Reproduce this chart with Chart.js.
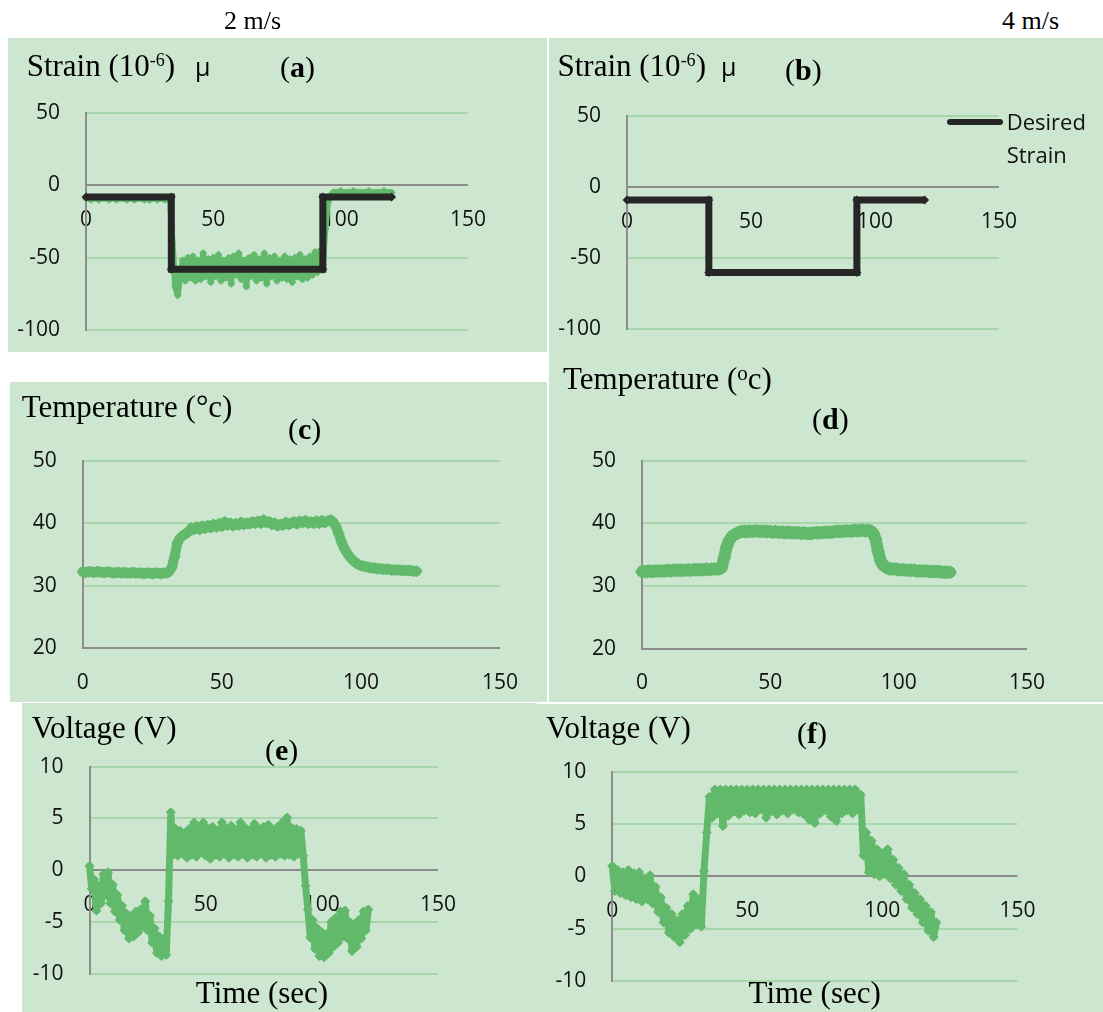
<!DOCTYPE html>
<html><head><meta charset="utf-8">
<script src="https://cdn.jsdelivr.net/npm/chart.js@4.4.0/dist/chart.umd.min.js"></script>
<style>
html,body{margin:0;padding:0;}
body{width:1103px;height:1012px;background:#fff;position:relative;overflow:hidden;}
.panel{position:absolute;background:#cde6d0;}
canvas.chart{position:absolute;z-index:3;pointer-events:none;}
.t{position:absolute;white-space:nowrap;color:#000;line-height:1;z-index:5;}
.t sup{font-size:18px;vertical-align:10px;line-height:1;}
.t .o{font-size:21px;vertical-align:9px;line-height:1;}
.t .mu{font-family:'Open Sans',sans-serif;font-size:25px;}
.swatch{position:absolute;background:#262626;border-radius:3px;z-index:5;}
</style>
</head><body>
<script>
// ---------- data ----------
const TIME = Array.from({length: 121}, (_, i) => i);   // sampling instants, seconds

const X_TICKS = [0, 50, 100, 150];

// (a) strain at 2 m/s, measured
const STRAIN_A = [
 -9,-9,-10,-9,-9,-10,-9,-9,-9,-10, -9,-9,-10,-9,-9,-9,-10,-9,-9,-10,
 -9,-9,-9,-10,-9,-10,-9,-9,-10,-9, -9,-10,-9,-10,
 -40,-70,-76,-62,-52,-66,-50,-64,-49,-66,
 -52,-65,-47,-63,-51,-67,-50,-63,-48,-66,
 -52,-64,-50,-68,-49,-62,-47,-65,-52,-70,
 -50,-63,-48,-66,-51,-64,-47,-68,-50,-63,
 -49,-66,-52,-64,-49,-65,-51,-67,-50,-63,
 -48,-65,-51,-64,-49,-62,-46,-60,-45,-55,
 -30,-12,-7,-5,-5,-5,-4,-5,-5,-5,
 -5,-4,-5,-5,-5,-5,-5,-4,-5,-5,
 -5,-5,-5,-4,-5,-5,-5
];
// desired strain (a) and (b)
const DESIRED_A_T = [0, 33.5, 33.5, 93, 93, 120];
const DESIRED_A_V = [-8, -8, -58, -58, -8, -8];
const DESIRED_B_T = [0, 33, 33, 92.7, 92.7, 120];
const DESIRED_B_V = [-9, -9, -60, -60, -9, -9];

// (c) temperature at 2 m/s
const TEMP_C = [
 32.2,32.1,32.2,32.2,32.1,32.2,32.2,32.1,32.1,32.2,
 32.1,32.0,32.1,32.1,32.0,32.1,32.0,32.0,32.1,32.0,
 32.0,32.0,31.9,32.0,32.0,31.9,32.0,32.0,31.9,32.0,
 32.0,
 32.2,32.9,34.6,36.8,37.6,38.0,38.3,38.6,39.2,
 39.0,39.4,39.0,39.5,39.2,39.6,39.3,39.8,39.4,39.9,
 39.5,40.2,39.7,40.0,39.6,39.9,39.7,40.1,39.8,40.0,
 39.9,40.2,40.0,40.3,40.0,40.5,40.1,40.2,39.8,40.0,
 39.6,39.8,39.7,40.1,39.8,40.0,40.2,39.9,40.3,40.1,
 40.4,40.0,40.2,40.0,40.3,40.0,40.4,40.1,40.3,40.5,
 40.2,39.5,38.3,37.0,36.0,35.2,34.6,34.1,33.7,33.4,
 33.2,33.1,33.0,32.9,32.8,32.8,32.7,32.7,32.6,32.6,
 32.6,32.5,32.5,32.5,32.5,32.4,32.4,32.4,32.4,32.3,
 32.3
];
// (d) temperature at 4 m/s
const TEMP_D = [
 32.3,32.3,32.3,32.4,32.3,32.4,32.4,32.4,32.4,32.4,
 32.5,32.4,32.5,32.5,32.5,32.5,32.5,32.5,32.6,32.5,
 32.6,32.6,32.6,32.6,32.6,32.7,32.6,32.7,32.7,32.7,
 32.7,
 32.9,34.5,36.3,37.3,37.9,38.2,38.4,38.6,38.7,
 38.7,38.7,38.8,38.7,38.8,38.8,38.7,38.8,38.7,38.7,
 38.7,38.6,38.7,38.6,38.6,38.6,38.5,38.6,38.5,38.5,
 38.5,38.5,38.4,38.5,38.4,38.4,38.4,38.5,38.5,38.5,
 38.5,38.6,38.6,38.6,38.6,38.7,38.7,38.7,38.7,38.8,
 38.8,38.8,38.8,38.9,38.8,38.9,38.9,38.8,38.9,38.8,
 38.5,37.5,35.5,34.0,33.3,33.0,32.8,32.7,32.7,32.7,
 32.6,32.6,32.6,32.5,32.5,32.5,32.5,32.4,32.4,32.4,
 32.4,32.4,32.3,32.3,32.3,32.3,32.3,32.2,32.2,32.2,
 32.2
];
// (e) voltage at 2 m/s
const VOLT_E = [
 0.4,-1.8,-0.9,-3.9,-1.5,-3.2,-0.4,-2.4,-0.2,-3.2,
 -1.4,-4.0,-2.4,-4.8,-3.4,-5.8,-4.2,-6.6,-4.4,-6.4,
 -4.0,-6.0,-3.8,-5.4,-3.0,-5.8,-4.4,-7.0,-5.6,-8.0,
 -6.4,-8.3,-6.6,-8.2,-3.0,5.6,1.5,4.0,1.4,3.8,
 1.6,3.6,1.2,4.0,1.5,4.6,1.3,4.2,1.7,4.6,
 1.4,4.0,1.1,4.2,1.5,3.8,1.3,4.6,1.6,4.0,
 1.2,4.3,1.5,3.9,1.3,4.6,1.6,4.1,1.2,3.9,
 1.5,4.5,1.3,4.0,1.6,4.2,1.2,4.4,1.5,3.9,
 1.3,4.2,1.6,4.6,1.4,5.1,1.5,4.1,1.3,4.0,
 1.6,3.8,1.4,-1.5,-3.8,-6.5,-4.8,-7.6,-5.6,-8.3,
 -6.0,-8.4,-6.2,-8.0,-5.0,-7.4,-4.6,-7.0,-4.0,-6.4,
 -3.9,-6.6,-5.0,-7.8,-5.2,-7.4,-4.8,-6.6,-4.0,-5.8,-3.8
];
// (f) voltage at 4 m/s
const VOLT_F = [
 1.0,-1.4,0.6,-1.6,0.4,-1.8,0.6,-2.0,0.3,-2.2,
 0.4,-2.4,-0.2,-2.2,0.1,-2.6,-1.0,-3.4,-2.0,-4.4,
 -3.0,-5.4,-3.6,-5.8,-4.2,-6.3,-3.6,-5.6,-2.8,-5.0,
 -1.7,-4.6,-2.2,-4.8,0.5,4.2,7.6,5.6,8.3,6.0,
 8.3,4.8,8.3,5.8,8.3,6.2,8.3,5.9,8.3,6.3,
 8.3,6.1,8.3,6.0,8.3,6.4,8.3,5.6,8.3,6.2,
 8.3,5.9,8.3,6.3,8.3,6.0,8.3,6.4,8.3,6.1,
 8.3,5.9,8.3,5.4,8.3,5.1,8.3,6.0,8.3,6.3,
 8.3,5.7,8.3,5.3,8.3,6.0,8.3,6.3,8.3,6.0,
 8.3,6.4,7.8,2.0,4.2,0.4,3.4,0.2,2.6,0.0,
 2.2,0.2,2.6,-0.2,1.6,-0.8,0.8,-1.4,0.2,-2.2,
 -0.8,-3.0,-1.6,-3.6,-2.2,-4.4,-2.8,-5.2,-3.4,-5.8,-4.4
];

// ---------- styles ----------
const GREEN = '#62b96c';
const BLACK = '#262626';
const GRID = '#a6d6a9';
const GRAY = '#8c8c8c';
const TICK_FONT = {family: "'Open Sans', sans-serif", size: 21};
const TICK_COLOR = '#111';

const ROUND = {borderJoinStyle: 'round', borderCapStyle: 'round'};
const STYLES = {
  desired: {borderColor: BLACK, backgroundColor: BLACK, borderWidth: 7, pointRadius: 4.5, pointBackgroundColor: BLACK,
            borderJoinStyle: 'miter', borderCapStyle: 'butt'},
  thin:    Object.assign({borderColor: GREEN, backgroundColor: GREEN, borderWidth: 6, pointRadius: 4, pointBackgroundColor: GREEN}, ROUND),
  thickC:  Object.assign({borderColor: GREEN, backgroundColor: GREEN, borderWidth: 10, pointRadius: 6, pointBackgroundColor: GREEN}, ROUND),
  thickD:  Object.assign({borderColor: GREEN, backgroundColor: GREEN, borderWidth: 12, pointRadius: 7, pointBackgroundColor: GREEN}, ROUND),
  volt:    Object.assign({borderColor: GREEN, backgroundColor: GREEN, borderWidth: 7, pointRadius: 5, pointBackgroundColor: GREEN}, ROUND)
};

const PANELS = [
  {box: [8, 38, 539, 314],   plot: [86, 113, 468, 330],       y: [-100, 50, 50], base: 0,
   sets: [{t: DESIRED_A_T, v: DESIRED_A_V, k: 'desired'}, {t: TIME, v: STRAIN_A, k: 'thin'}]},
  {box: [549, 38, 554, 320], plot: [627, 116, 999, 329.3],    y: [-100, 50, 50], base: 0,
   sets: [{t: DESIRED_B_T, v: DESIRED_B_V, k: 'desired'}]},
  {box: [10, 382, 537, 320], plot: [82.7, 460.7, 500, 648],   y: [20, 50, 10], base: 20,
   sets: [{t: TIME, v: TEMP_C, k: 'thickC'}]},
  {box: [549, 358, 554, 344], plot: [642, 460.7, 1027, 648.7], y: [20, 50, 10], base: 20,
   sets: [{t: TIME, v: TEMP_D, k: 'thickD'}]},
  {box: [22, 703, 515, 309], plot: [89.5, 766.7, 438, 973.7], y: [-10, 10, 5], base: 0,
   sets: [{t: TIME, v: VOLT_E, k: 'volt'}]},
  {box: [537, 704, 566, 308], plot: [612.2, 771.7, 1017.4, 981], y: [-10, 10, 5], base: 0,
   sets: [{t: TIME, v: VOLT_F, k: 'volt'}]}
];

const YW = 80;                       // width reserved for the y-axis labels
const M = {left: 60, top: 80, right: 80, bottom: 70};   // canvas margin around the plot area

// panel backgrounds first
PANELS.forEach(p => {
  const [bx, by, bw, bh] = p.box;
  const div = document.createElement('div');
  div.className = 'panel';
  Object.assign(div.style, {left: bx + 'px', top: by + 'px', width: bw + 'px', height: bh + 'px'});
  document.body.appendChild(div);
});

function makeChart(p) {
  const [L, T, R, B] = p.plot;
  const cx = Math.round(L - YW - M.left), cy = Math.round(T - M.top);
  const cw = Math.round(R + M.right) - cx, ch = Math.round(B + M.bottom) - cy;
  const cv = document.createElement('canvas');
  cv.className = 'chart';
  cv.width = cw; cv.height = ch;
  Object.assign(cv.style, {left: cx + 'px', top: cy + 'px', width: cw + 'px', height: ch + 'px'});
  document.body.appendChild(cv);
  const pad = {left: L - YW - cx, top: T - cy, right: cx + cw - R, bottom: cy + ch - B};
  new Chart(cv, {
    type: 'line',
    data: {
      datasets: p.sets.map(s => Object.assign({
        data: s.t.map((t, i) => ({x: t, y: s.v[i]})),
        pointStyle: 'rectRot', pointBorderWidth: 0, tension: 0, clip: false, fill: false
      }, STYLES[s.k]))
    },
    options: {
      responsive: false, animation: false, events: [],
      devicePixelRatio: 1,
      layout: {padding: pad},
      plugins: {legend: {display: false}, tooltip: {enabled: false}},
      scales: {
        x: {
          type: 'linear', min: X_TICKS[0], max: X_TICKS[X_TICKS.length - 1],
          position: {y: p.base},
          grid: {display: false, drawTicks: false},
          border: {display: false},
          afterBuildTicks: s => { s.ticks = X_TICKS.map(v => ({value: v})); },
          ticks: {font: TICK_FONT, color: TICK_COLOR, padding: 22, maxRotation: 0, autoSkip: false}
        },
        y: {
          type: 'linear', min: p.y[0], max: p.y[1], position: 'left',
          afterFit: s => { s.width = YW; },
          grid: {drawTicks: false, lineWidth: 2,
                 color: c => (c.tick && c.tick.value === p.base) ? GRAY : GRID},
          border: {display: true, color: GRAY, width: 2},
          ticks: {stepSize: p.y[2], font: TICK_FONT, color: TICK_COLOR, padding: 26}
        }
      }
    }
  });
}
PANELS.forEach(makeChart);

// ---------- texts ----------
function addText(html, left, baseline, size, opts) {
  opts = opts || {};
  const d = document.createElement('div');
  d.className = 't';
  d.innerHTML = html;
  const sans = !!opts.sans;
  d.style.fontFamily = sans ? "'Open Sans', sans-serif" : "'Liberation Serif', 'Times New Roman', serif";
  d.style.fontSize = size + 'px';
  d.style.top = (baseline - (sans ? 0.888 : 0.837) * size) + 'px';
  d.style.left = left + 'px';
  if (opts.center) d.style.transform = 'translateX(-50%)';
  if (opts.color) d.style.color = opts.color;
  document.body.appendChild(d);
}
addText('2 m/s', 224, 30, 26);
addText('4 m/s', 1002, 30, 26);

addText('Strain (10<sup>-6</sup>)', 26.7, 76, 31);
addText('<span class="mu">μ</span>', 195, 76, 31);
addText('(<b>a</b>)', 280, 77, 30);

addText('Strain (10<sup>-6</sup>)', 557.5, 76, 31);
addText('<span class="mu">μ</span>', 721, 76, 31);
addText('(<b>b</b>)', 785, 80, 30);

addText('Temperature (°c)', 21.7, 416.7, 31);
addText('(<b>c</b>)', 288, 439, 30);

addText('Temperature (<span class="o">o</span>c)', 563, 389, 31);
addText('(<b>d</b>)', 812, 429, 30);

addText('Voltage (V)', 31.7, 738, 31);
addText('(<b>e</b>)', 265, 760, 30);

addText('Voltage (V)', 546, 738, 31);
addText('(<b>f</b>)', 797, 743, 30);

addText('Time (sec)', 262, 1003, 31, {center: true});
addText('Time (sec)', 814.7, 1003, 31, {center: true});

// legend of panel (b)
const sw = document.createElement('div');
sw.className = 'swatch';
Object.assign(sw.style, {left: '947px', top: '119px', width: '56px', height: '6px'});
document.body.appendChild(sw);
addText('Desired', 1006.7, 129.3, 22, {sans: true, color: '#111'});
addText('Strain', 1006.7, 162.7, 22, {sans: true, color: '#111'});
</script>
</body></html>
